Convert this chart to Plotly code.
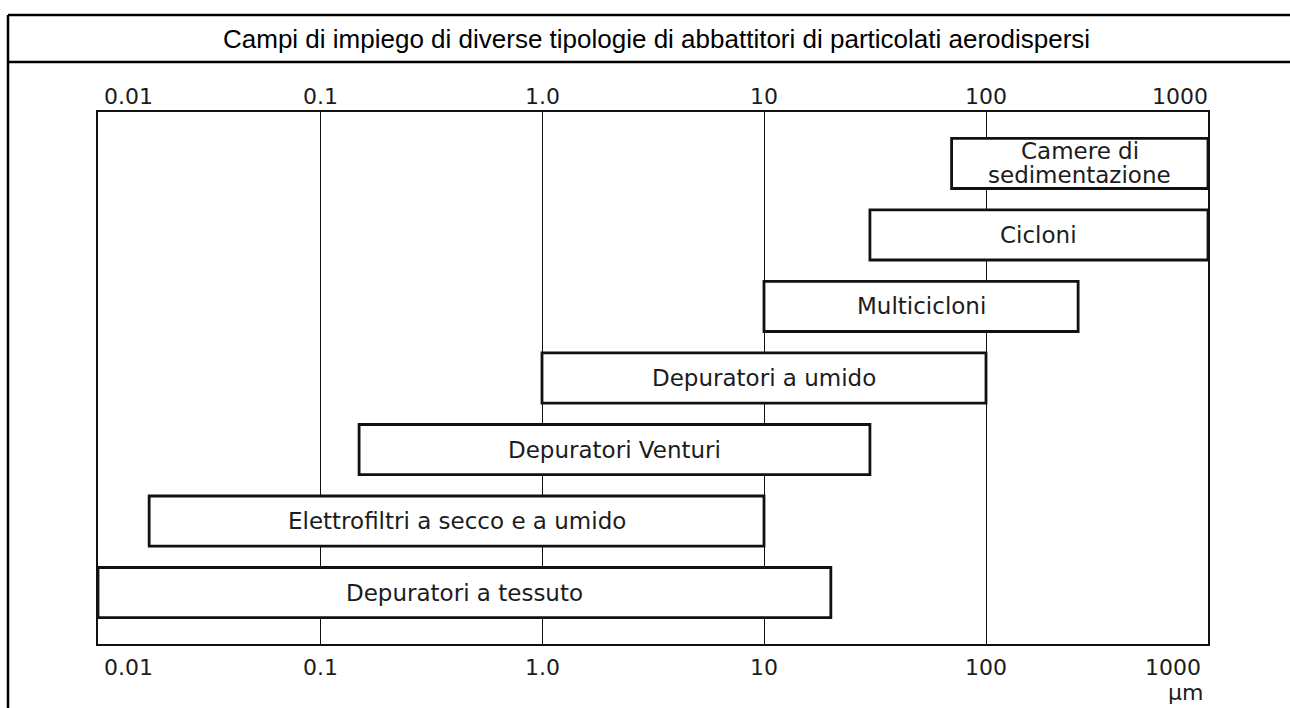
import math
import plotly.graph_objects as go

# Particle-size ranges (µm) for each type of dust collector, top row first
devices = [
    "Camere di<br>sedimentazione",
    "Cicloni",
    "Multicicloni",
    "Depuratori a umido",
    "Depuratori Venturi",
    "Elettrofiltri a secco e a umido",
    "Depuratori a tessuto",
]
size_min = [70, 30, 10, 1.0, 0.15, 0.017, 0.01]
size_max = [1000, 1000, 260, 100, 30, 10, 20]

tick_values = [0.01, 0.1, 1, 10, 100, 1000]
tick_labels = ["0.01", "0.1", "1.0", "10", "100", "1000"]
unit_label = "µm"
title_text = "Campi di impiego di diverse tipologie di abbattitori di particolati aerodispersi"

W, H = 1290, 708
n = len(devices)
rows = [n - 1 - i for i in range(n)]  # first device drawn at the top

LABEL_FONT = dict(family="DejaVu Sans", size=23, color="#1c1c1c")
TICK_FONT = dict(family="DejaVu Sans", size=22, color="#1c1c1c")

fig = go.Figure()
fig.add_trace(go.Bar(
    orientation="h",
    y=rows,
    base=size_min,
    x=[hi - lo for lo, hi in zip(size_min, size_max)],
    width=0.7,
    marker=dict(color="white", line=dict(color="#111111", width=2.8)),
    hoverinfo="skip",
))

annotations = []

# labels centred inside each bar (geometric centre on the log axis)
for label, lo, hi, r in zip(devices, size_min, size_max, rows):
    xc = (math.log10(lo) + math.log10(hi)) / 2
    lines = label.split("<br>")
    pitch = 24
    for k, line in enumerate(lines):
        shift = ((len(lines) - 1) / 2 - k) * pitch
        annotations.append(dict(
            x=xc, y=r, xref="x", yref="y", text=line, showarrow=False,
            xanchor="center", yanchor="middle", yshift=shift, font=LABEL_FONT,
        ))

# decade labels above and below the frame
top_y = 1 - 97 / H
bottom_y = 1 - 667 / H
for i, (v, t) in enumerate(zip(tick_values, tick_labels)):
    if i == 0:
        anchor, dx_top, dx_bot = "left", 4, 4
    elif i == len(tick_values) - 1:
        anchor, dx_top, dx_bot = "right", 2, -5
    else:
        anchor, dx_top, dx_bot = "center", 0, 0
    for yy, dx in ((top_y, dx_top), (bottom_y, dx_bot)):
        annotations.append(dict(
            x=math.log10(v), y=yy, xref="x", yref="paper", text=t,
            showarrow=False, xanchor=anchor, yanchor="middle", xshift=dx,
            font=TICK_FONT,
        ))

annotations.append(dict(
    x=math.log10(tick_values[-1]), y=1 - 692 / H, xref="x", yref="paper",
    text=unit_label, showarrow=False, xanchor="right", yanchor="middle",
    xshift=-3, font=TICK_FONT,
))

annotations.append(dict(
    x=656 / W, y=1 - 39 / H, xref="paper", yref="paper", text=title_text,
    showarrow=False, xanchor="center", yanchor="middle",
    font=dict(family="Liberation Sans, Arial", size=26, color="black"),
))

# outer box with the title band
shapes = [
    dict(type="line", xref="paper", yref="paper",
         x0=8 / W, x1=8 / W, y0=-0.02, y1=1 - 15 / H,
         line=dict(color="black", width=2.5)),
    dict(type="line", xref="paper", yref="paper",
         x0=8 / W, x1=1.02, y0=1 - 15 / H, y1=1 - 15 / H,
         line=dict(color="black", width=2.5)),
    dict(type="line", xref="paper", yref="paper",
         x0=8 / W, x1=1.02, y0=1 - 62 / H, y1=1 - 62 / H,
         line=dict(color="black", width=2.5)),
]

fig.update_layout(
    width=W, height=H,
    margin=dict(l=0, r=0, t=0, b=0),
    paper_bgcolor="white", plot_bgcolor="white",
    showlegend=False,
    annotations=annotations,
    shapes=shapes,
    xaxis=dict(
        type="log", range=[-2, 3], domain=[98 / W, 1208 / W],
        tickvals=tick_values, showticklabels=False, ticks="",
        showgrid=True, gridcolor="#111111", gridwidth=1.4,
        showline=True, mirror=True, linecolor="#111111", linewidth=2,
        zeroline=False, fixedrange=True,
    ),
    yaxis=dict(
        range=[-0.72, n - 1 + 0.72], domain=[1 - 644 / H, 1 - 112 / H],
        showticklabels=False, ticks="", showgrid=False, zeroline=False,
        showline=True, mirror=True, linecolor="#111111", linewidth=2,
        fixedrange=True,
    ),
)

fig.write_html("out.html")
